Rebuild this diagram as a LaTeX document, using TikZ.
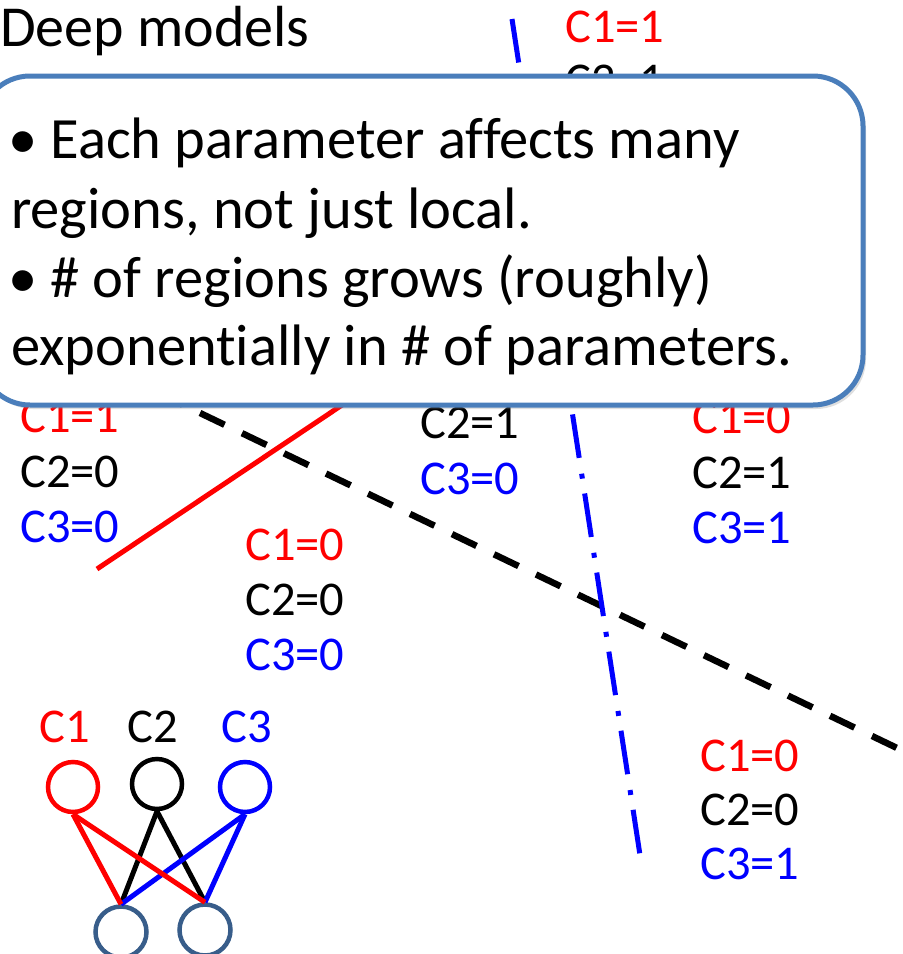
\documentclass[tikz,border=0pt]{standalone}
\usepackage{fontspec}
\setmainfont{Carlito}[Ligatures=NoCommon]
\usetikzlibrary{shadows}
\definecolor{calloutblue}{RGB}{74,126,187}
\definecolor{nodeblue}{RGB}{56,93,138}
\begin{document}
\begin{tikzpicture}[x=1pt,y=-1pt,
  lbl/.style={anchor=base west, inner sep=0pt, font=\fontsize{48.5}{55}\selectfont},
  big/.style={anchor=base west, inner sep=0pt, font=\fontsize{58.5}{69}\selectfont},
  unit/.style={circle, line width=4.5pt, inner sep=0pt, minimum size=50pt},
  hid/.style={circle, draw=nodeblue, line width=4.5pt, inner sep=0pt, minimum size=51pt},
  wire/.style={line width=5pt},
  boundary/.style={line width=5pt}]
\useasboundingbox (0,0) rectangle (903,954);

% title
\node[anchor=base west, inner sep=0pt, font=\fontsize{58}{64}\selectfont] (title) at (0,46) {Deep models};

% partition lines
\coordinate (r1) at (97,569);
\coordinate (r2) at (360,393);
\draw[red, boundary] (r1) -- (r2);
\coordinate (k1) at (116,372.6);
\coordinate (k2) at (897,748);
\draw[black, line width=6.5pt, dash pattern=on 27.2pt off 19.4pt] (k1) -- (k2);
\coordinate (b1) at (512,19);
\coordinate (b2) at (640,855);
\draw[blue, boundary, dash pattern=on 44pt off 16pt on 5pt off 15pt] (b1) -- (b2);

% region labels
\node[lbl, red] (t1) at (565,42) {C1=1};
\node[lbl] (t2) at (565,96) {C2=1};

\node[lbl, red] (l1) at (20,432) {C1=1};
\node[lbl] (l2) at (20,487) {C2=0};
\node[lbl, blue] (l3) at (20,542) {C3=0};

\node[lbl] (m2) at (420,438) {C2=1};
\node[lbl, blue] (m3) at (420,494) {C3=0};

\node[lbl, red] (rr1) at (692,433) {C1=0};
\node[lbl] (rr2) at (692,488) {C2=1};
\node[lbl, blue] (rr3) at (692,543) {C3=1};

\node[lbl, red] (c1) at (245,560) {C1=0};
\node[lbl] (c2) at (245,615) {C2=0};
\node[lbl, blue] (c3) at (245,670) {C3=0};

\node[lbl, red] (d1) at (700,771) {C1=0};
\node[lbl] (d2) at (700,825) {C2=0};
\node[lbl, blue] (d3) at (700,879) {C3=1};

% callout
\draw[calloutblue, line width=5pt, fill=white, rounded corners=50pt,
  drop shadow={shadow xshift=3pt, shadow yshift=-4pt, opacity=0.25}]
  (-20,76) rectangle (863,405);
\node[big] (p1) at (8,158) {• Each parameter affects many};
\node[big] (p2) at (11,228) {regions, not just local.};
\node[big] (p3) at (8,297) {• \# of regions grows (roughly)};
\node[big] (p4) at (11,365) {exponentially in \# of parameters.};

% small network
\node[lbl, red] (n1) at (39,742) {C1};
\node[lbl] (n2) at (127,742) {C2};
\node[lbl, blue] (n3) at (221,742) {C3};
\node[unit, draw=red] (h1) at (73,787) {};
\node[unit, draw=black] (h2) at (157,784) {};
\node[unit, draw=blue] (h3) at (245,787) {};
\node[hid] (x1) at (121,932) {};
\node[hid] (x2) at (205,930) {};
\draw[wire, black] (h2.south) -- (x1.north);
\draw[wire, black] (h2.south) -- (x2.north);
\draw[wire, blue] (h3.south) -- (x1.north);
\draw[wire, blue] (h3.south) -- (x2.north);
\draw[wire, red] (h1.south) -- (x1.north);
\draw[wire, red] (h1.south) -- (x2.north);
\end{tikzpicture}
\end{document}
